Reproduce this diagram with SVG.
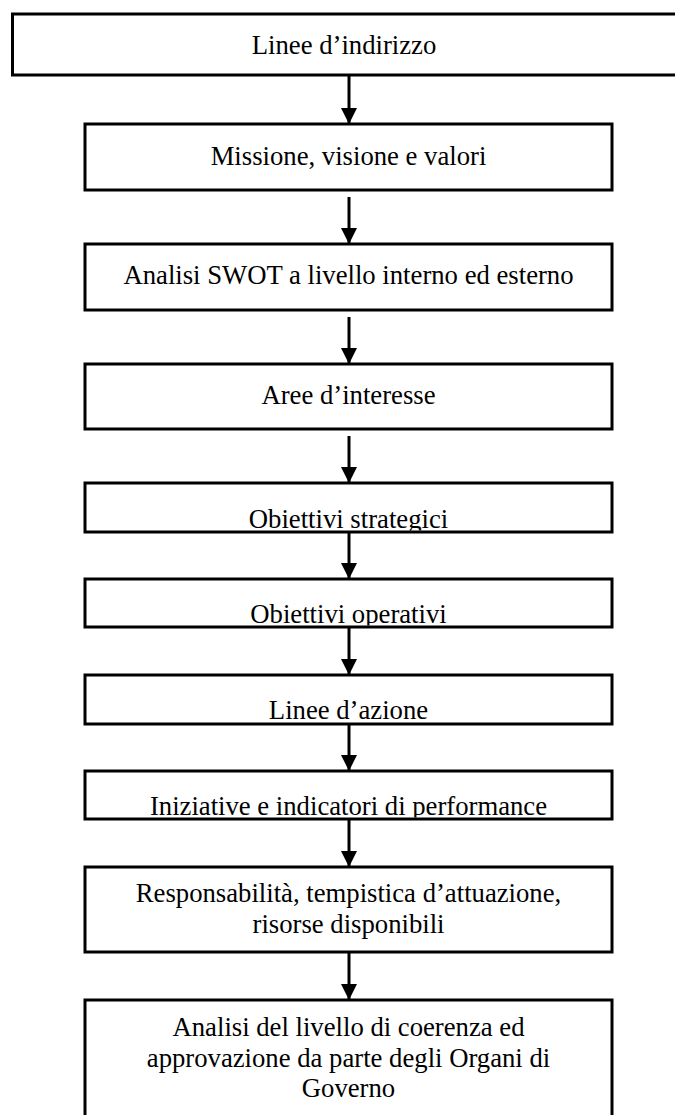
<svg xmlns="http://www.w3.org/2000/svg" width="675" height="1115" viewBox="0 0 675 1115">
<style>
.box{fill:#fff;stroke:#000;stroke-width:3}
.t{font-family:"Liberation Serif","Times New Roman",serif;font-size:26.7px;fill:#000;text-anchor:middle}
.c{stroke:#000;stroke-width:3;fill:none}
</style>
<defs>
<marker id="ah" markerUnits="userSpaceOnUse" markerWidth="18" markerHeight="18" viewBox="0 0 18 18" refX="17" refY="9" orient="auto">
<path d="M1,1 L17,9 L1,17 Z" fill="#000"/>
</marker>
<clipPath id="c5"><rect x="86" y="484" width="525" height="46.5"/></clipPath>
<clipPath id="c6"><rect x="86" y="580" width="525" height="45.5"/></clipPath>
<clipPath id="c7"><rect x="86" y="676" width="525" height="46.5"/></clipPath>
<clipPath id="c8"><rect x="86" y="772" width="525" height="45.5"/></clipPath>
</defs>
<rect width="675" height="1115" fill="#fff"/>
<g id="connectors">
<line class="c" x1="349" y1="75" x2="349" y2="124" marker-end="url(#ah)"/>
<line class="c" x1="349" y1="197" x2="349" y2="244" marker-end="url(#ah)"/>
<line class="c" x1="349" y1="317" x2="349" y2="364" marker-end="url(#ah)"/>
<line class="c" x1="349" y1="436" x2="349" y2="483" marker-end="url(#ah)"/>
<line class="c" x1="349" y1="532" x2="349" y2="579" marker-end="url(#ah)"/>
<line class="c" x1="349" y1="627" x2="349" y2="675" marker-end="url(#ah)"/>
<line class="c" x1="349" y1="724" x2="349" y2="771" marker-end="url(#ah)"/>
<line class="c" x1="349" y1="819" x2="349" y2="867" marker-end="url(#ah)"/>
<line class="c" x1="349" y1="952" x2="349" y2="1000" marker-end="url(#ah)"/>
</g>
<g id="n1"><rect class="box" x="12.5" y="14" width="680" height="61"/><text class="t" x="344" y="54">Linee d’indirizzo</text></g>
<g id="n2"><rect class="box" x="85" y="124" width="527" height="66"/><text class="t" x="348.5" y="165">Missione, visione e valori</text></g>
<g id="n3"><rect class="box" x="85" y="244" width="527" height="66"/><text class="t" x="348.5" y="284">Analisi SWOT a livello interno ed esterno</text></g>
<g id="n4"><rect class="box" x="85" y="364" width="527" height="65"/><text class="t" x="348.5" y="404">Aree d’interesse</text></g>
<g id="n5"><rect class="box" x="85" y="483" width="527" height="49"/><text class="t" x="348.5" y="528" clip-path="url(#c5)">Obiettivi strategici</text></g>
<g id="n6"><rect class="box" x="85" y="579" width="527" height="48"/><text class="t" x="348.5" y="623" clip-path="url(#c6)">Obiettivi operativi</text></g>
<g id="n7"><rect class="box" x="85" y="675" width="527" height="49"/><text class="t" x="348.5" y="719" clip-path="url(#c7)">Linee d’azione</text></g>
<g id="n8"><rect class="box" x="85" y="771" width="527" height="48"/><text class="t" x="348.5" y="815" clip-path="url(#c8)">Iniziative e indicatori di performance</text></g>
<g id="n9"><rect class="box" x="85" y="867" width="527" height="85"/><text class="t" x="348.5" y="902">Responsabilità, tempistica d’attuazione,</text><text class="t" x="348.5" y="933">risorse disponibili</text></g>
<g id="n10"><rect class="box" x="85" y="1000" width="527" height="130"/><text class="t" x="348.5" y="1036">Analisi del livello di coerenza ed</text><text class="t" x="348.5" y="1067">approvazione da parte degli Organi di</text><text class="t" x="348.5" y="1097">Governo</text></g>
</svg>
